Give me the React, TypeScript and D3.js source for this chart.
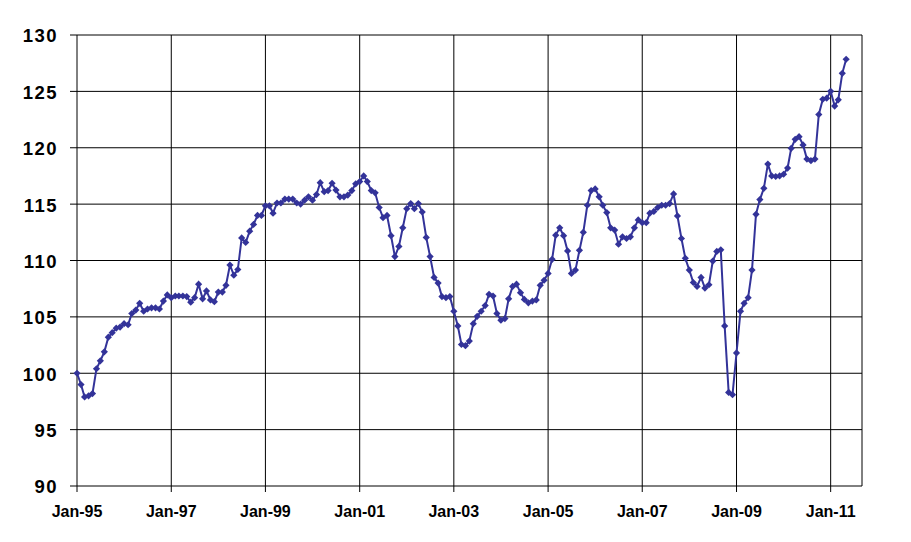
import React from 'react';
import * as d3 from 'd3';

// Monthly index values, Jan 1995 onwards
const startYear = 1995;
const values1995 = [100.0, 99.0, 97.9, 98.0, 98.2, 100.4, 101.1, 101.9, 103.2, 103.6, 104.0, 104.1];
const values1996 = [104.4, 104.3, 105.3, 105.6, 106.2, 105.5, 105.7, 105.8, 105.8, 105.7, 106.4, 106.95];
const values1997 = [106.7, 106.85, 106.85, 106.85, 106.8, 106.3, 106.7, 107.9, 106.6, 107.3, 106.5, 106.35];
const values1998 = [107.2, 107.2, 107.8, 109.6, 108.7, 109.2, 112.0, 111.6, 112.6, 113.2, 114.0, 114.0];
const values1999 = [114.85, 114.85, 114.2, 115.1, 115.1, 115.45, 115.45, 115.45, 115.1, 115.0, 115.35, 115.65];
const values2000 = [115.35, 115.85, 116.9, 116.1, 116.2, 116.85, 116.25, 115.65, 115.65, 115.8, 116.2, 116.8];
const values2001 = [117.0, 117.5, 117.0, 116.2, 116.0, 114.7, 113.8, 114.0, 112.2, 110.35, 111.25, 112.9];
const values2002 = [114.6, 115.05, 114.6, 115.05, 114.3, 112.05, 110.35, 108.5, 108.0, 106.8, 106.7, 106.8];
const values2003 = [105.5, 104.2, 102.55, 102.45, 102.85, 104.4, 105.05, 105.5, 106.0, 107.0, 106.85, 105.3];
const values2004 = [104.7, 104.85, 106.6, 107.7, 107.9, 107.15, 106.55, 106.25, 106.4, 106.5, 107.8, 108.25];
const values2005 = [108.85, 110.1, 112.25, 112.9, 112.2, 110.85, 108.85, 109.15, 110.9, 112.5, 114.9, 116.2];
const values2006 = [116.35, 115.65, 114.9, 114.25, 112.9, 112.7, 111.45, 112.1, 111.95, 112.1, 112.9, 113.6];
const values2007 = [113.35, 113.35, 114.2, 114.35, 114.7, 114.9, 114.9, 115.05, 115.9, 113.95, 111.95, 110.2];
const values2008 = [109.15, 108.05, 107.7, 108.5, 107.55, 107.85, 109.95, 110.8, 110.95, 104.2, 98.3, 98.1];
const values2009 = [101.8, 105.5, 106.2, 106.7, 109.15, 114.1, 115.4, 116.4, 118.55, 117.5, 117.45, 117.5];
const values2010 = [117.65, 118.2, 119.95, 120.75, 120.98, 120.25, 119.0, 118.85, 119.0, 122.95, 124.3, 124.4];
const values2011 = [125.0, 123.7, 124.25, 126.6, 127.85];

const yearlyValues = [
  values1995, values1996, values1997, values1998, values1999, values2000,
  values2001, values2002, values2003, values2004, values2005, values2006,
  values2007, values2008, values2009, values2010, values2011,
];

const yTicks = [90, 95, 100, 105, 110, 115, 120, 125, 130];
const xTickYears = [1995, 1997, 1999, 2001, 2003, 2005, 2007, 2009, 2011];

type Point = { date: Date; value: number };

const data: Point[] = yearlyValues.flatMap((vals, yi) =>
  vals.map((v, m) => ({ date: new Date(startYear + yi, m, 1), value: v }))
);

const width = 911;
const height = 542;
const plot = { left: 77, right: 862, top: 35, bottom: 486 };
const lineColor = '#333399';
const font = '"Liberation Sans", Arial, sans-serif';

export default function App() {
  const x = d3
    .scaleTime()
    .domain([new Date(1995, 0, 1), new Date(2011, 8, 1)])
    .range([plot.left, plot.right]);

  const y = d3.scaleLinear().domain([90, 130]).range([plot.bottom, plot.top]);

  const line = d3
    .line<Point>()
    .x(d => x(d.date))
    .y(d => y(d.value));

  const diamond = d3.symbol().type(d3.symbolSquare).size(26)() || '';
  const fmt = d3.timeFormat('%b-%y');

  return (
    <svg
      width={width}
      height={height}
      style={{ position: 'absolute', left: 0, top: 0, background: '#fff' }}
    >
      {/* horizontal grid + y ticks */}
      {yTicks.map(t => (
        <g key={t}>
          <line x1={plot.left} x2={plot.right} y1={y(t)} y2={y(t)} stroke="#000" strokeWidth={1} />
          <line x1={plot.left - 7} x2={plot.left} y1={y(t)} y2={y(t)} stroke="#000" strokeWidth={1} />
          <text
            x={58}
            y={y(t)}
            dy="0.4em"
            textAnchor="end"
            fontFamily={font}
            fontWeight="bold"
            fontSize={18.5}
            letterSpacing={1.5}
            fill="#000"
          >
            {t}
          </text>
        </g>
      ))}

      {/* vertical grid + x ticks */}
      {xTickYears.map(yr => {
        const d = new Date(yr, 0, 1);
        const px = x(d);
        return (
          <g key={yr}>
            <line x1={px} x2={px} y1={plot.top} y2={plot.bottom} stroke="#000" strokeWidth={1} />
            <line x1={px} x2={px} y1={plot.bottom} y2={plot.bottom + 6} stroke="#000" strokeWidth={1} />
            <text
              x={px}
              y={plot.bottom + 31}
              textAnchor="middle"
              fontFamily={font}
              fontWeight="bold"
              fontSize={16}
              fill="#000"
            >
              {fmt(d)}
            </text>
          </g>
        );
      })}

      {/* right border */}
      <line x1={plot.right} x2={plot.right} y1={plot.top} y2={plot.bottom} stroke="#000" strokeWidth={1} />

      {/* series */}
      <path d={line(data) || ''} fill="none" stroke={lineColor} strokeWidth={2} />
      {data.map((d, i) => (
        <path
          key={i}
          d={diamond}
          transform={`translate(${x(d.date)},${y(d.value)}) rotate(45)`}
          fill={lineColor}
        />
      ))}
    </svg>
  );
}
